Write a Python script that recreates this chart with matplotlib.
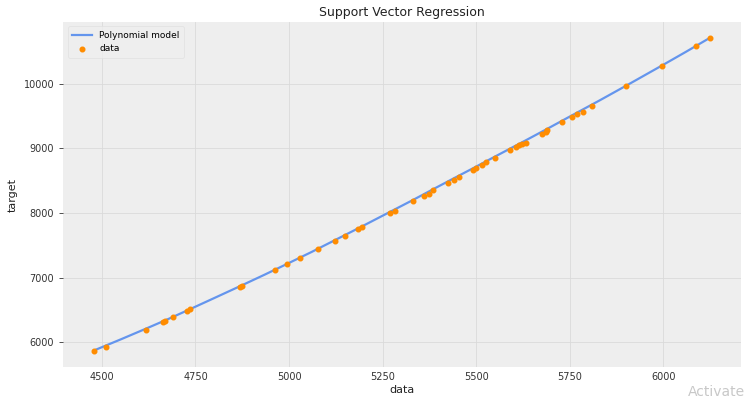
import matplotlib
matplotlib.use("Agg")
import matplotlib.pyplot as plt

data_x = [4479, 4512, 4617, 4662, 4668, 4690, 4728, 4736, 4868, 4873,
          4963, 4995, 5030, 5078, 5122, 5150, 5185, 5195, 5270, 5283,
          5330, 5360, 5373, 5385, 5425, 5440, 5455, 5490, 5500, 5515,
          5527, 5550, 5590, 5605, 5615, 5623, 5632, 5675, 5685, 5690,
          5730, 5755, 5770, 5785, 5810, 5900, 5995, 6088, 6125]
target = [5860, 5935, 6195, 6310, 6330, 6390, 6490, 6510, 6860, 6875,
          7120, 7210, 7300, 7440, 7570, 7650, 7750, 7780, 8000, 8030,
          8180, 8270, 8300, 8350, 8470, 8510, 8560, 8660, 8700, 8750,
          8790, 8860, 8980, 9020, 9050, 9070, 9090, 9230, 9260, 9280,
          9410, 9490, 9530, 9570, 9650, 9960, 10280, 10590, 10710]

# model predictions
model_x = [4479, 4550, 4617, 4680, 4736, 4800, 4873, 4935, 4995, 5060,
           5122, 5195, 5270, 5330, 5385, 5440, 5500, 5560, 5632, 5690,
           5755, 5830, 5900, 5995, 6060, 6125]
model_y = [5875, 6045, 6210, 6368, 6515, 6685, 6880, 7048, 7215, 7398,
           7580, 7795, 8020, 8200, 8370, 8538, 8720, 8905, 9125, 9305,
           9510, 9745, 9970, 10280, 10495, 10715]

fig, ax = plt.subplots(figsize=(7.44, 3.99), dpi=100)
fig.subplots_adjust(left=0.085, right=0.996, top=0.945, bottom=0.08)
ax.set_facecolor("#eeeeee")
ax.grid(True, color="#dadada", linewidth=0.6)
ax.set_axisbelow(True)
for s in ax.spines.values():
    s.set_visible(False)

ax.plot(model_x, model_y, color="cornflowerblue", linewidth=1.6,
        label="Polynomial model")
ax.scatter(data_x, target, color="darkorange", s=11, zorder=3,
           label="data")

ax.set_xticks([4500, 4750, 5000, 5250, 5500, 5750, 6000])
ax.set_yticks([6000, 7000, 8000, 9000, 10000])
ax.tick_params(labelsize=7, colors="#333333", length=3, width=0.6)
ax.tick_params(axis="x", length=0)
ax.set_xlabel("data", fontsize=8, color="#222222", labelpad=2)
ax.set_ylabel("target", fontsize=8, color="#222222")
ax.set_title("Support Vector Regression", fontsize=9, color="#222222", pad=4)

leg = ax.legend(loc="upper left", fontsize=6.5, frameon=True,
                facecolor="#eeeeee", edgecolor="#e0e0e0",
                borderpad=0.5, handlelength=2.2)
leg.get_frame().set_linewidth(0.6)

fig.text(0.925, 0.0, "Activate", fontsize=10, color="#c8c8c8",
         ha="left", va="bottom")

fig.savefig("out.png", dpi=100)
